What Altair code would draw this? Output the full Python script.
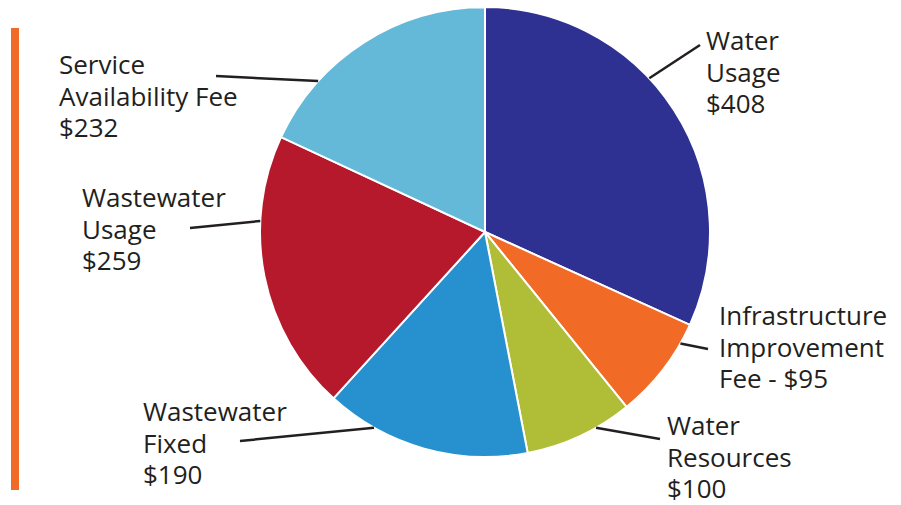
import math
import altair as alt
import pandas as pd

# ---- data ----
categories = ["Water Usage", "Infrastructure Improvement Fee", "Water Resources",
              "Wastewater Fixed", "Wastewater Usage", "Service Availability Fee"]
values = [408, 95, 100, 190, 259, 232]
label_lines = [["Water", "Usage", "$408"],
               ["Infrastructure", "Improvement", "Fee - $95"],
               ["Water", "Resources", "$100"],
               ["Wastewater", "Fixed", "$190"],
               ["Wastewater", "Usage", "$259"],
               ["Service", "Availability Fee", "$232"]]
colors = ["#2e3192", "#f26b26", "#b0bd37", "#2790cf", "#b5192b", "#65b9d8"]

# ---- layout (chart pixel space; page = chart + 8) ----
CX, CY, R = 477, 224, 225
LINE_H = 31.5
leader_frac = [0.41, 0.20, 0.335, 0.76, 0.695, 0.264]     # where leader touches slice
leader_end = [(692, 37), (700, 341), (652, 431), (232, 433), (182, 220), (208, 68)]
label_pos = [(698, 42), (711, 317), (659, 427), (135, 413), (74, 199), (51, 66)]

total = sum(values)
rows = []
text_rows = []
start = 0.0
for i, (c, v) in enumerate(zip(categories, values)):
    span = v / total * 360.0
    a = math.radians(start + leader_frac[i] * span)
    sx = CX + R * math.sin(a)
    sy = CY - R * math.cos(a)
    ex, ey = leader_end[i]
    rows.append(dict(cat=c, value=v, idx=i, sx=sx, sy=sy, ex=ex, ey=ey))
    lx, ly = label_pos[i]
    for k, t in enumerate(label_lines[i]):
        text_rows.append(dict(cat=c, line=t, lx=lx, ly=ly + k * LINE_H))
    start += span
df = pd.DataFrame(rows)
tdf = pd.DataFrame(text_rows)

base = alt.Chart(df)

pie = base.mark_arc(outerRadius=R, stroke="white", strokeWidth=2).encode(
    theta=alt.Theta("value:Q", stack=True),
    order=alt.Order("idx:Q"),
    color=alt.Color("cat:N", scale=alt.Scale(domain=categories, range=colors), legend=None),
    x=alt.value(CX), y=alt.value(CY),
)

leaders = base.mark_rule(color="#231f20", strokeWidth=2.5).encode(
    x=alt.X("sx:Q", scale=None, axis=None),
    y=alt.Y("sy:Q", scale=None, axis=None),
    x2="ex:Q", y2="ey:Q",
)

labels = alt.Chart(tdf).mark_text(align="left", baseline="alphabetic",
                                  font="Open Sans", fontSize=26,
                                  color="#231f20").encode(
    x=alt.X("lx:Q", scale=None, axis=None),
    y=alt.Y("ly:Q", scale=None, axis=None),
    text="line:N",
)

bar = alt.Chart(pd.DataFrame({"k": [0]})).mark_rect(color="#f26b26").encode(
    x=alt.value(3), x2=alt.value(11), y=alt.value(20), y2=alt.value(482),
)

chart = alt.layer(bar, pie, leaders, labels).properties(
    width=885, height=497, padding=0,
    autosize=alt.AutoSizeParams(type="none"),
).configure_view(stroke=None)

chart.save("out.html", embed_options={"renderer": "svg", "actions": False})
